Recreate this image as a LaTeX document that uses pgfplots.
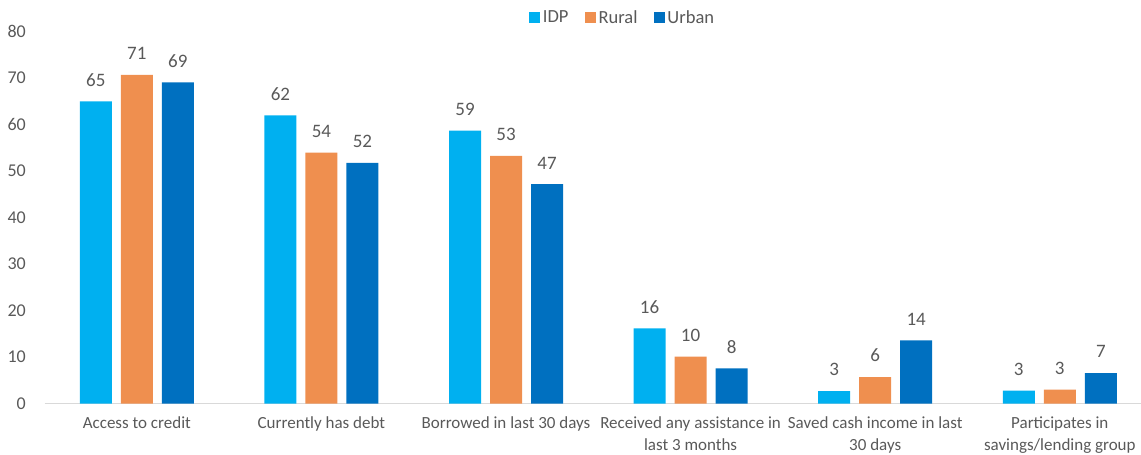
\documentclass[border=0pt]{standalone}
\usepackage{pgfplots}
\pgfplotsset{compat=1.18}
\usepackage{fontspec}
\setmainfont{Carlito}
\definecolor{cIDP}{HTML}{00B0F0}
\definecolor{cRural}{HTML}{EF8F4F}
\definecolor{cUrban}{HTML}{0070C0}
\definecolor{txt}{HTML}{595959}
\definecolor{axl}{HTML}{D9D9D9}
\begin{document}
\begin{tikzpicture}[x=1pt,y=1pt]
\useasboundingbox (0,0) rectangle (1141,455);
\begin{axis}[
  at={(44.5pt,51.3pt)}, anchor=south west,
  scale only axis,
  width=1096.5pt, height=372pt,
  ybar=9pt, bar width=32pt,
  xmin=-0.5, xmax=5.44,
  ymin=0, ymax=80,
  ytick={0,10,...,80},
  xtick=data,
  xticklabels={Access to credit, Currently has debt, Borrowed in last 30 days, {Received any assistance in\\last 3 months}, {Saved cash income in last\\30 days}, {Participates in\\savings/lending group}},
  axis x line*=bottom, axis y line*=left,
  x axis line style={draw=axl, line width=1pt, -},
  y axis line style={draw=none},
  major tick length=0pt,
  /pgf/number format/assume math mode=true,
  xticklabel style={font=\fontsize{17}{22}\selectfont, text=txt, align=center, anchor=north, inner sep=0pt, yshift=-13pt},
  yticklabel style={font=\fontsize{18}{20}\selectfont, text=txt, anchor=east, inner sep=0pt, xshift=-18.5pt},
  nodes near coords,
  point meta=y,
  every node near coord/.append style={font=\fontsize{19}{20}\selectfont, text=txt, anchor=south, inner sep=0pt, yshift=15pt, /pgf/number format/fixed, /pgf/number format/precision=0, /pgf/number format/assume math mode=true},
  legend columns=3,
  legend style={at={(0.5276,1.038)}, anchor=center, draw=none, fill=none, font=\fontsize{18.5}{20}\selectfont, text=txt, inner sep=0pt, nodes={inner xsep=2.5pt, inner ysep=0pt}, /tikz/every even column/.append style={column sep=14pt}},
  legend image code/.code={\fill[#1] (0pt,-5.5pt) rectangle (11pt,5.5pt);},
]
\addplot[fill=cIDP, draw=none] coordinates {(0,65.0) (1,62.0) (2,58.7) (3,16.2) (4,2.7) (5,2.8)};
\addplot[fill=cRural, draw=none] coordinates {(0,70.7) (1,54.0) (2,53.3) (3,10.1) (4,5.7) (5,3.0)};
\addplot[fill=cUrban, draw=none] coordinates {(0,69.1) (1,51.8) (2,47.2) (3,7.6) (4,13.6) (5,6.6)};
\legend{IDP, Rural, Urban}
\end{axis}
\end{tikzpicture}
\end{document}
